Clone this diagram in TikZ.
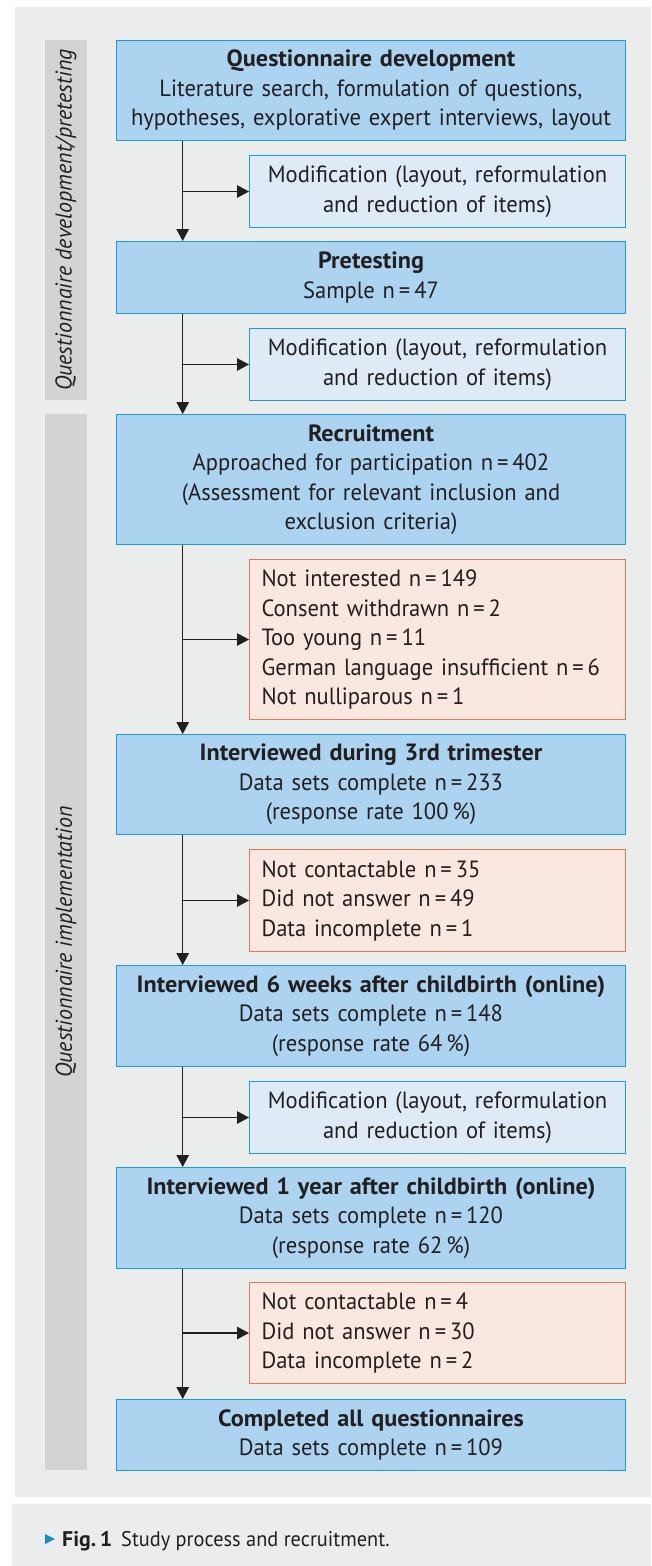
\documentclass[tikz,border=0pt]{standalone}
\usepackage{fontspec}
\setmainfont{PT Sans}[FakeStretch=0.96,BoldFeatures={FakeStretch=1.03}]
\usetikzlibrary{arrows.meta,positioning}

\definecolor{panelgray}{HTML}{EBECEC}
\definecolor{sidegray}{HTML}{D2D3D5}
\definecolor{mainblue}{HTML}{ACD3F0}
\definecolor{modblue}{HTML}{DEEBF7}
\definecolor{boxblue}{HTML}{1E9BD7}
\definecolor{exclfill}{HTML}{FAE7DF}
\definecolor{exclred}{HTML}{E3775A}
\definecolor{textdark}{HTML}{231F20}
\definecolor{capblue}{HTML}{1A8CCB}

\newcommand\boxfont{\fontsize{23.5}{29.5}\selectfont}
\newcommand\sidefont{\fontsize{22.9}{25}\selectfont}
\newcommand\capfont{\fontsize{21.2}{25}\selectfont}
\newcommand\trunkx{66.7pt}
\newcommand\branchx{-66.3pt}

\begin{document}
\begin{tikzpicture}[x=1pt,y=1pt,
    box/.style={draw=boxblue,line width=1pt,font=\boxfont,text=textdark,
      anchor=north east,inner xsep=0pt,inner ysep=0pt},
    mainbox/.style={box,fill=mainblue,text width=509pt,minimum height=#1,align=center},
    modbox/.style={box,fill=modblue,text width=376pt,minimum height=72pt,align=center},
    exclbox/.style={box,draw=exclred,fill=exclfill,text width=352pt,inner xsep=12pt,
      minimum height=#1,align=left},
    sidelabel/.style={rotate=90,font=\sidefont\itshape,text=textdark},
    flow/.style={draw=textdark,line width=1.2pt,-{Triangle[length=12pt,width=12.5pt]}}]

    \useasboundingbox (0,0) rectangle (651,-1566);
    \fill[white] (0,0) rectangle (651,-1566);

    % panels
    \fill[panelgray] (15,-7) rectangle (651,-1497);
    \fill[panelgray] (12,-1504) rectangle (651,-1566);
    \fill[sidegray] (45,-40) rectangle (87,-400);
    \fill[sidegray] (45,-414) rectangle (87,-1470);
    \node[sidelabel] (phase1) at (66,-220) {Questionnaire development/pretesting};
    \node[sidelabel] (phase2) at (66,-942) {Questionnaire implementation};

    % main steps
    \node[mainbox=100pt] (qdev) at (626,-40) {\textbf{Questionnaire development}\\
      Literature search, formulation of questions,\\
      hypotheses, explorative expert interviews, layout};
    \node[modbox] (mod1) at (626,-155) {Modification (layout, reformulation\\
      and reduction of items)};
    \node[mainbox=72pt] (pretest) at (626,-241) {\textbf{Pretesting}\\
      Sample n\,=\,47};
    \node[modbox] (mod2) at (626,-328) {Modification (layout, reformulation\\
      and reduction of items)};
    \node[mainbox=130pt] (recruit) at (626,-414) {\textbf{Recruitment}\\
      Approached for participation n\,=\,402\\
      (Assessment for relevant inclusion and\\
      exclusion criteria)};
    \node[exclbox=160pt] (excl1) at (626,-559) {Not interested n\,=\,149\\
      Consent withdrawn n\,=\,2\\
      Too young n\,=\,11\\
      German language insufficient n\,=\,6\\
      Not nulliparous n\,=\,1};
    \node[mainbox=100pt] (trim3) at (626,-734) {\textbf{Interviewed during 3rd trimester}\\
      Data sets complete n\,=\,233\\
      (response rate 100\,\%)};
    \node[exclbox=102pt] (excl2) at (626,-849) {Not contactable n\,=\,35\\
      Did not answer n\,=\,49\\
      Data incomplete n\,=\,1};
    \node[mainbox=101pt] (week6) at (626,-965) {\textbf{Interviewed 6 weeks after childbirth (online)}\\
      Data sets complete n\,=\,148\\
      (response rate 64\,\%)};
    \node[modbox] (mod3) at (626,-1081) {Modification (layout, reformulation\\
      and reduction of items)};
    \node[mainbox=101pt] (year1) at (626,-1167) {\textbf{Interviewed 1 year after childbirth (online)}\\
      Data sets complete n\,=\,120\\
      (response rate 62\,\%)};
    \node[exclbox=101pt] (excl3) at (626,-1282) {Not contactable n\,=\,4\\
      Did not answer n\,=\,30\\
      Data incomplete n\,=\,2};
    \node[mainbox=71pt] (done) at (626,-1399) {\textbf{Completed all questionnaires}\\
      Data sets complete n\,=\,109};

    % trunk
    \draw[flow] ([xshift=\trunkx]qdev.south west) -- ([xshift=\trunkx]pretest.north west);
    \draw[flow] ([xshift=\trunkx]pretest.south west) -- ([xshift=\trunkx]recruit.north west);
    \draw[flow] ([xshift=\trunkx]recruit.south west) -- ([xshift=\trunkx]trim3.north west);
    \draw[flow] ([xshift=\trunkx]trim3.south west) -- ([xshift=\trunkx]week6.north west);
    \draw[flow] ([xshift=\trunkx]week6.south west) -- ([xshift=\trunkx]year1.north west);
    \draw[flow] ([xshift=\trunkx]year1.south west) -- ([xshift=\trunkx]done.north west);

    % branches
    \draw[flow] ([xshift=\branchx]mod1.west) -- (mod1.west);
    \draw[flow] ([xshift=\branchx]mod2.west) -- (mod2.west);
    \draw[flow] ([xshift=\branchx]excl1.west) -- (excl1.west);
    \draw[flow] ([xshift=\branchx]excl2.west) -- (excl2.west);
    \draw[flow] ([xshift=\branchx]mod3.west) -- (mod3.west);
    \draw[flow] ([xshift=\branchx]excl3.west) -- (excl3.west);

    % caption
    \fill[capblue] (45,-1534) -- (55,-1539) -- (45,-1544) -- cycle;
    \node[anchor=base west,inner sep=0pt,font=\capfont,text=textdark]
      (figno) at (62,-1546.7) {\textbf{Fig.\,1}};
    \node[anchor=base west,inner sep=0pt,font=\capfont,text=textdark]
      (figtext) at (121,-1546.7) {Study process and recruitment.};
  \end{tikzpicture}
\end{document}
